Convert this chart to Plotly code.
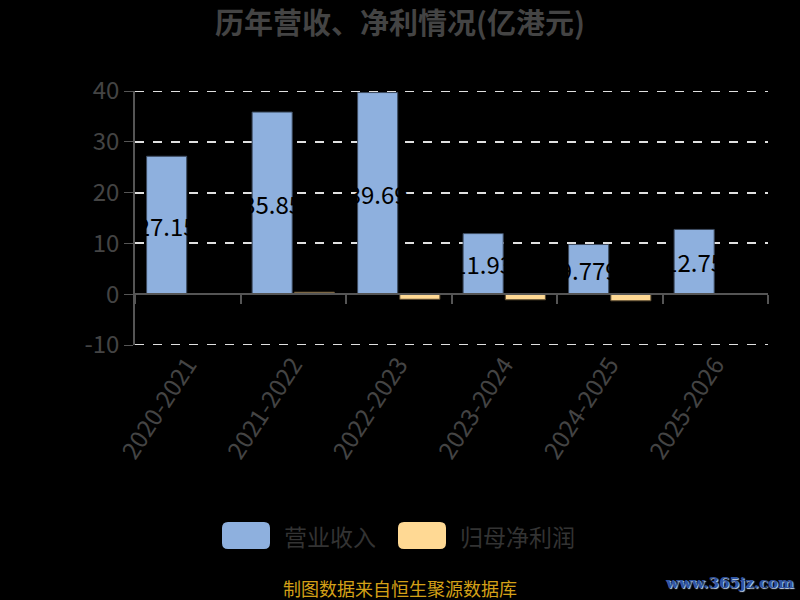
import plotly.graph_objects as go

categories = ["2020-2021", "2021-2022", "2022-2023", "2023-2024", "2024-2025", "2025-2026"]
revenue = [27.15, 35.85, 39.69, 11.93, 9.779, 12.75]
net_profit = [0.05, 0.4, -1.0, -1.1, -1.3, 0.05]
revenue_labels = ["27.15", "35.85", "39.69", "11.93", "9.779", "12.75"]
y_tick_values = [-10, 0, 10, 20, 30, 40]
y_tick_labels = ["-10", "0", "10", "20", "30", "40"]
series_names = ["营业收入", "归母净利润"]
title_text = "历年营收、净利情况(亿港元)"
footer_text = "制图数据来自恒生聚源数据库"
watermark_text = "www.365jz.com"

FONT = "Noto Sans CJK SC"
BLUE = "#8EB0DE"
ORANGE = "#FFD994"
GRID = "#e0e0e0"

fig = go.Figure()
fig.add_trace(go.Bar(
    x=categories, y=revenue, name=series_names[0],
    marker=dict(color=BLUE, line=dict(color="#3c4a5e", width=1)),
    text=revenue_labels, textposition="inside", insidetextanchor="middle",
    constraintext="none", textangle=0,
    textfont=dict(family=FONT, size=24, color="#000000"),
    showlegend=False,
))
fig.add_trace(go.Bar(
    x=categories, y=net_profit, name=series_names[1],
    marker=dict(color=ORANGE, line=dict(color="#5a4a30", width=1)),
    showlegend=False,
))

n = len(categories)
fig.update_layout(
    width=800, height=600,
    paper_bgcolor="#000000", plot_bgcolor="#000000",
    margin=dict(l=135, r=32, t=91, b=255),
    barmode="group", bargap=0.2, bargroupgap=0.05,
    title=dict(text="<b>" + title_text + "</b>", x=0.5, xanchor="center",
               y=0.96, yanchor="middle",
               font=dict(family=FONT, size=29, color="#444444")),
    xaxis=dict(
        type="category", showline=False, ticks="", showgrid=False,
        tickangle=-57, tickfont=dict(family=FONT, size=24, color="#444444"),
        range=[-0.5, n - 0.5],
    ),
    xaxis2=dict(
        overlaying="x", anchor="free", position=0.2, side="bottom",
        range=[-0.5, n - 0.5], tickmode="array",
        tickvals=[i - 0.5 for i in range(n + 1)],
        showticklabels=False, ticks="outside", ticklen=9, tickcolor="#555555",
        tickwidth=1.5, showline=True, linecolor="#555555", linewidth=1.5,
        showgrid=False, zeroline=False,
    ),
    yaxis=dict(
        range=[-10, 40], tickmode="array", tickvals=y_tick_values,
        ticktext=y_tick_labels, showline=True, linecolor="#555555",
        linewidth=1.5, ticks="outside", ticklen=9, tickcolor="#555555",
        showgrid=True, gridcolor=GRID, griddash="dash", gridwidth=2,
        zeroline=False,
        tickfont=dict(family=FONT, size=24, color="#444444"),
    ),
)

# gridlines at the two range edges (Plotly omits them)
for yv in (y_tick_values[0], y_tick_values[-1]):
    fig.add_shape(type="line", xref="paper", yref="y", x0=0, x1=1, y0=yv, y1=yv,
                  line=dict(color=GRID, width=2, dash="dash"), layer="below")

# invisible helper trace so that the overlaid axis renders
fig.add_trace(go.Scatter(x=[-0.5], y=[0], xaxis="x2", mode="markers",
                         marker=dict(opacity=0), showlegend=False, hoverinfo="skip"))


def px(x):
    return (x - 135) / (800 - 135 - 32)


def py(y):
    return (345 - y) / (345 - 91)


# custom legend
legend_items = [(222, 270, BLUE, series_names[0], 282), (398, 446, ORANGE, series_names[1], 458)]
for x0, x1, col, name, tx in legend_items:
    y0, y1 = 522, 549
    r = 6
    pp = (f"M {px(x0+r)},{py(y0)} L {px(x1-r)},{py(y0)} Q {px(x1)},{py(y0)} {px(x1)},{py(y0+r)} "
          f"L {px(x1)},{py(y1-r)} Q {px(x1)},{py(y1)} {px(x1-r)},{py(y1)} L {px(x0+r)},{py(y1)} "
          f"Q {px(x0)},{py(y1)} {px(x0)},{py(y1-r)} L {px(x0)},{py(y0+r)} Q {px(x0)},{py(y0)} {px(x0+r)},{py(y0)} Z")
    fig.add_shape(type="path", xref="paper", yref="paper", path=pp,
                  fillcolor=col, line=dict(width=0))
    fig.add_annotation(x=px(tx), y=py(535.5), xref="paper", yref="paper",
                       text=name, showarrow=False, xanchor="left", yanchor="middle",
                       font=dict(family=FONT, size=23, color="#333333"))

fig.add_annotation(x=px(400), y=py(588), xref="paper", yref="paper",
                   text=footer_text, showarrow=False, xanchor="center", yanchor="middle",
                   font=dict(family=FONT, size=18, color="#D4A017"))
fig.add_annotation(x=px(796), y=py(583), xref="paper", yref="paper",
                   text="<b>" + watermark_text + "</b>", showarrow=False,
                   xanchor="right", yanchor="middle",
                   font=dict(family="DejaVu Serif", size=15, color="#2f55a4",
                             shadow="1px 1px 1px #c8d8f0"))

fig.write_html("out.html", config={"displayModeBar": False},
               post_script="document.body.style.margin='0';document.body.style.overflow='hidden';")
